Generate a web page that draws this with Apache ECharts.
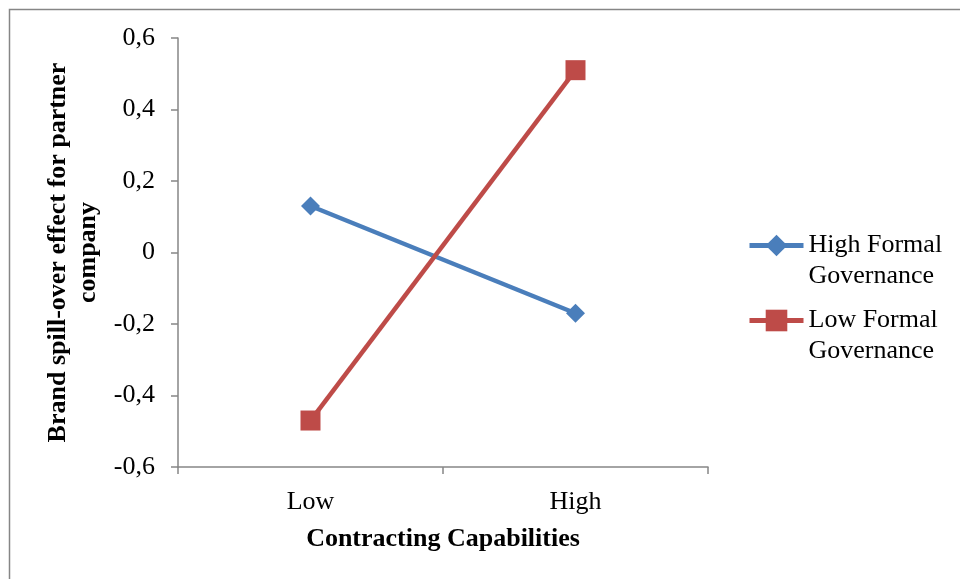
<!DOCTYPE html>
<html>
<head>
<meta charset="utf-8">
<script src="https://cdn.jsdelivr.net/npm/echarts@6/dist/echarts.min.js"></script>
<style>
  html, body { margin: 0; padding: 0; background: #fff; }
  #chart { width: 960px; height: 579px; }
</style>
</head>
<body>
<div id="chart"></div>
<script>
// Interaction plot: brand spill-over by contracting capability level
const categories = ['Low', 'High'];
const highFormal = [0.13, -0.17];
const lowFormal = [-0.47, 0.51];
const seriesNames = ['High Formal\nGovernance', 'Low Formal\nGovernance'];
const yTicks = { min: -0.6, max: 0.6, step: 0.2 };

const serif = '"Liberation Serif", "DejaVu Serif", serif';
const axisGray = '#868686';
const blue = '#4A7EBB';
const red = '#BE4B48';

const chart = echarts.init(document.getElementById('chart'), null, { renderer: 'canvas' });

function fmtTick(v) {
  if (Math.abs(v) < 1e-9) return '0';
  return v.toFixed(1).replace('.', ',');
}

// A blank leading line keeps the first line of the legend label level with its icon
function legendLabel(name) {
  return '\u00a0\n' + name;
}

const legendText = {
  fontFamily: serif,
  fontSize: 26,
  color: '#000',
  lineHeight: 31
};

const legendBase = {
  left: 747, padding: 0,
  itemWidth: 54, itemHeight: 27,
  itemGap: 0,
  formatter: legendLabel,
  lineStyle: { width: 5 },
  textStyle: legendText
};

chart.setOption({
  animation: false,
  backgroundColor: '#fff',
  graphic: [{
    type: 'rect',
    shape: { x: 9.5, y: 9.5, width: 1000, height: 1000 },
    style: { fill: 'none', stroke: axisGray, lineWidth: 1.5 },
    silent: true
  }],
  grid: { left: 178, right: 252, top: 38, bottom: 112 },
  legend: [
    Object.assign({}, legendBase, { data: [seriesNames[0]], top: 199 }),
    Object.assign({}, legendBase, { data: [seriesNames[1]], top: 274 })
  ],
  xAxis: {
    type: 'category',
    data: categories,
    boundaryGap: true,
    name: 'Contracting Capabilities',
    nameLocation: 'middle',
    nameGap: 59,
    nameTextStyle: { fontFamily: serif, fontSize: 26, fontWeight: 'bold', color: '#000' },
    axisLine: { onZero: false, lineStyle: { color: axisGray, width: 1.5 } },
    axisTick: { show: true, length: 7, alignWithLabel: false, lineStyle: { color: axisGray, width: 1.5 } },
    axisLabel: { fontFamily: serif, fontSize: 26, color: '#000', margin: 22 },
    splitLine: { show: false }
  },
  yAxis: {
    type: 'value',
    min: yTicks.min,
    max: yTicks.max,
    interval: yTicks.step,
    name: 'Brand spill-over effect for partner\ncompany',
    nameLocation: 'middle',
    nameRotate: 90,
    nameGap: 65,
    nameTextStyle: { fontFamily: serif, fontSize: 26, fontWeight: 'bold', color: '#000', lineHeight: 30 },
    axisLine: { show: true, lineStyle: { color: axisGray, width: 1.5 } },
    axisTick: { show: true, length: 7, lineStyle: { color: axisGray, width: 1.5 } },
    axisLabel: { fontFamily: serif, fontSize: 26, color: '#000', margin: 23, formatter: fmtTick },
    splitLine: { show: false }
  },
  series: [
    {
      name: seriesNames[0],
      type: 'line',
      data: highFormal,
      symbol: 'diamond',
      symbolSize: 19,
      lineStyle: { color: blue, width: 4.5 },
      itemStyle: { color: blue },
      z: 2
    },
    {
      name: seriesNames[1],
      type: 'line',
      data: lowFormal,
      symbol: 'rect',
      symbolSize: 20,
      lineStyle: { color: red, width: 4.5 },
      itemStyle: { color: red },
      z: 3
    }
  ]
});
</script>
</body>
</html>
